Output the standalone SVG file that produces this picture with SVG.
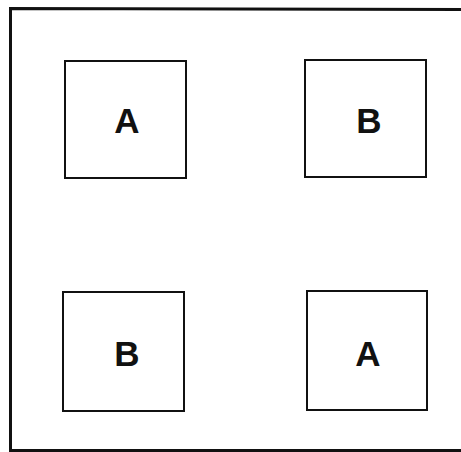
<svg xmlns="http://www.w3.org/2000/svg" width="461" height="452" viewBox="0 0 461 452">
<style>
.box{fill:#fff;stroke:#111;stroke-width:2}
.lbl{font-family:"Liberation Sans",Arial,sans-serif;font-weight:bold;font-size:35px;fill:#111;text-anchor:middle}
</style>
<rect width="461" height="452" fill="#fff"/>
<g id="frame">
<path d="M470,9.5 L10.5,8.5 L10.5,450.5 L470,450.5" fill="none" stroke="#111" stroke-width="3"/>
</g>
<g id="node-a1"><rect class="box" x="65" y="61" width="121" height="117"/><text class="lbl" x="127" y="133">A</text></g>
<g id="node-b1"><rect class="box" x="305" y="60" width="121" height="117"/><text class="lbl" x="369" y="133">B</text></g>
<g id="node-b2"><rect class="box" x="63" y="292" width="121" height="119"/><text class="lbl" x="127" y="366">B</text></g>
<g id="node-a2"><rect class="box" x="307" y="291" width="120" height="119"/><text class="lbl" x="368" y="366">A</text></g>
<g id="connectors"/>
</svg>
